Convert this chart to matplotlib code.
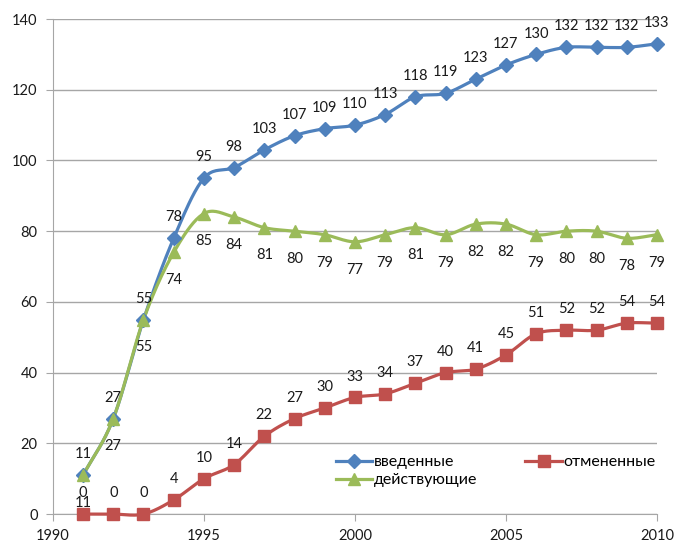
import numpy as np
import matplotlib
matplotlib.use("Agg")
import matplotlib.pyplot as plt
from matplotlib.lines import Line2D

years = list(range(1991, 2011))
vvedennye = [11, 27, 55, 78, 95, 98, 103, 107, 109, 110, 113, 118, 119, 123, 127, 130, 132, 132, 132, 133]
otmenennye = [0, 0, 0, 4, 10, 14, 22, 27, 30, 33, 34, 37, 40, 41, 45, 51, 52, 52, 54, 54]
deystvuyushchie = [11, 27, 55, 74, 85, 84, 81, 80, 79, 77, 79, 81, 79, 82, 82, 79, 80, 80, 78, 79]

series_names = ["введенные", "отмененные", "действующие"]
x_ticks = [1990, 1995, 2000, 2005, 2010]
y_ticks = [0, 20, 40, 60, 80, 100, 120, 140]

plt.rcParams["font.family"] = ["Lato", "DejaVu Sans"]


def smooth(xs, ys, n=20, tension=0.5):
    """Cardinal spline through the given points (display smoothing only)."""
    xs = np.asarray(xs, float)
    ys = np.asarray(ys, float)
    px = np.concatenate([[2 * xs[0] - xs[1]], xs, [2 * xs[-1] - xs[-2]]])
    py = np.concatenate([[2 * ys[0] - ys[1]], ys, [2 * ys[-1] - ys[-2]]])
    outx, outy = [], []
    t = np.linspace(0, 1, n, endpoint=False)
    for i in range(1, len(px) - 2):
        m1x = tension * (px[i + 1] - px[i - 1])
        m1y = tension * (py[i + 1] - py[i - 1])
        m2x = tension * (px[i + 2] - px[i])
        m2y = tension * (py[i + 2] - py[i])
        h00 = 2 * t**3 - 3 * t**2 + 1
        h10 = t**3 - 2 * t**2 + t
        h01 = -2 * t**3 + 3 * t**2
        h11 = t**3 - t**2
        outx.append(h00 * px[i] + h10 * m1x + h01 * px[i + 1] + h11 * m2x)
        outy.append(h00 * py[i] + h10 * m1y + h01 * py[i + 1] + h11 * m2y)
    outx.append([xs[-1]])
    outy.append([ys[-1]])
    return np.concatenate(outx), np.concatenate(outy)


fig = plt.figure(figsize=(6.78, 5.44), dpi=100)
ax = fig.add_axes([0.078, 0.055, 0.891, 0.91])

blue = "#4F81BD"
red = "#C0504D"
green = "#9BBB59"

styles = [
    (vvedennye, blue, "D", 7, 10),
    (otmenennye, red, "s", 9, 10),
    (deystvuyushchie, green, "^", 9, -15),
]

handles = []
for (vals, color, marker, ms, dy), name in zip(styles, series_names):
    sx, sy = smooth(years, vals)
    ax.plot(sx, sy, color=color, lw=2.3, zorder=3, solid_capstyle="round")
    ax.plot(years, vals, linestyle="none", marker=marker, ms=ms,
            color=color, zorder=4)
    for x, v in zip(years, vals):
        ax.annotate(str(v), (x, v), xytext=(0, dy), textcoords="offset points",
                    ha="center", va="bottom" if dy > 0 else "top",
                    fontsize=10.5, color="#1a1a1a", zorder=5)
    handles.append(Line2D([], [], color=color, lw=2.3, marker=marker, ms=ms))

ax.set_xlim(1990, 2010)
ax.set_ylim(0, 140)
ax.set_xticks(x_ticks)
ax.set_yticks(y_ticks)
ax.grid(axis="y", color="#A6A6A6", lw=1)
ax.set_axisbelow(True)
for s in ["top", "right"]:
    ax.spines[s].set_visible(False)
for s in ["left", "bottom"]:
    ax.spines[s].set_color("#A6A6A6")
ax.tick_params(axis="x", direction="out", length=5, color="#A6A6A6",
               labelsize=10.5, labelcolor="#1a1a1a", pad=6)
ax.tick_params(axis="y", direction="out", length=5, color="#A6A6A6",
               labelsize=10.5, labelcolor="#1a1a1a")
ax.yaxis.set_tick_params(pad=6)
for line in ax.lines:
    line.set_clip_on(False)

leg = ax.legend([handles[0], handles[2], handles[1]],
                [series_names[0], series_names[2], series_names[1]],
                ncol=2, loc="upper left", bbox_to_anchor=(0.447, 0.145),
                frameon=True, fancybox=False, edgecolor="white",
                framealpha=1, fontsize=11.5, handlelength=2.3,
                handletextpad=0.1, columnspacing=3.0, borderpad=0.3,
                labelspacing=0.25)
leg.set_zorder(6)

fig.savefig("out.png", dpi=100)
